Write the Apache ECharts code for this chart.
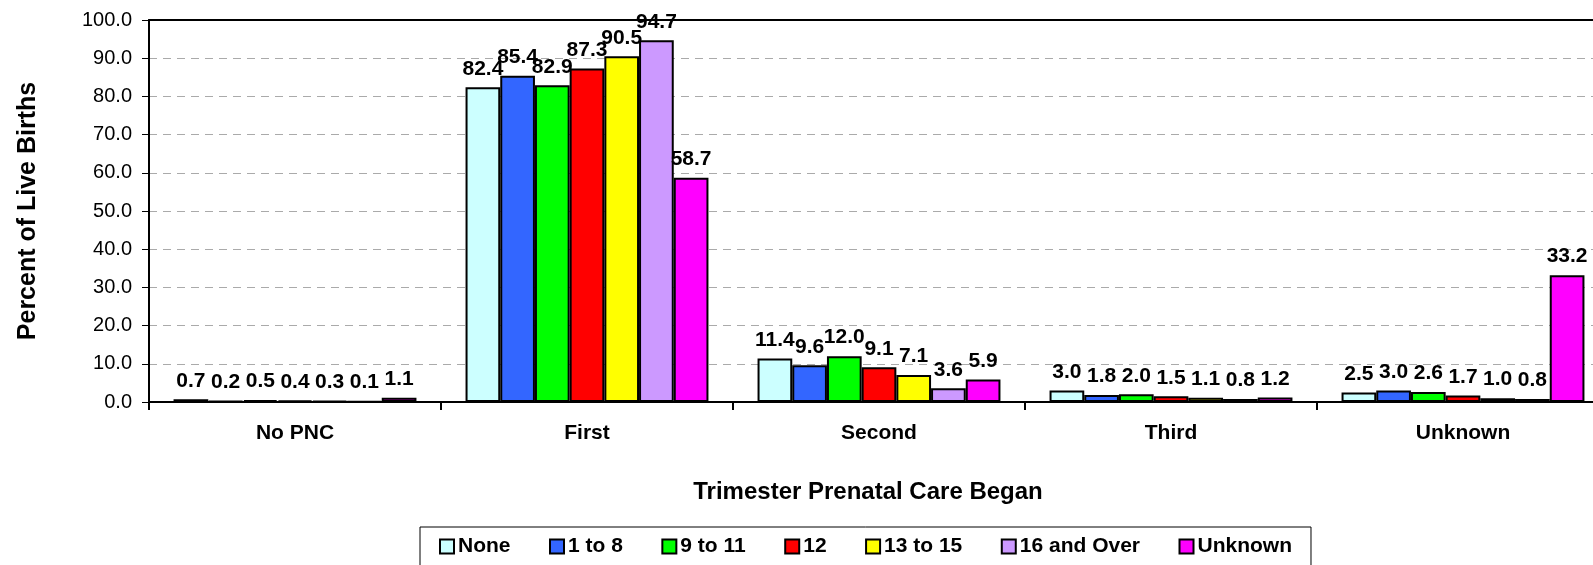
<!DOCTYPE html>
<html>
<head>
<meta charset="utf-8">
<script src="https://cdn.jsdelivr.net/npm/echarts@6/dist/echarts.min.js"></script>
<style>
  html, body { margin: 0; padding: 0; background: #fff; }
  #chart { width: 1593px; height: 565px; }
</style>
</head>
<body>
<div id="chart"></div>
<script>
// trimester categories
const categories = ['No PNC', 'First', 'Second', 'Third', 'Unknown']
// education groups (legend)
const groups = ['None', '1 to 8', '9 to 11', '12', '13 to 15', '16 and Over', 'Unknown']
const colors = ['#CCFFFF', '#3366FF', '#00FF00', '#FF0000', '#FFFF00', '#CC99FF', '#FF00FF']

// percent of live births per group, by trimester
const none = [0.7, 82.4, 11.4, 3.0, 2.5]
const oneTo8 = [0.2, 85.4, 9.6, 1.8, 3.0]
const nineTo11 = [0.5, 82.9, 12.0, 2.0, 2.6]
const twelve = [0.4, 87.3, 9.1, 1.5, 1.7]
const thirteenTo15 = [0.3, 90.5, 7.1, 1.1, 1.0]
const sixteenPlus = [0.1, 94.7, 3.6, 0.8, 0.8]
const unknown = [1.1, 58.7, 5.9, 1.2, 33.2]

const values = [none, oneTo8, nineTo11, twelve, thirteenTo15, sixteenPlus, unknown]

const chart = echarts.init(document.getElementById('chart'))

chart.setOption({
  animation: false,
  textStyle: { fontFamily: 'Liberation Sans, Arial, sans-serif' },
  // plot runs past the right edge (the original is cropped there)
  grid: { left: 149, width: 1460, top: 20, height: 382, outerBoundsMode: 'none' },
  legend: {
    data: groups,
    top: 527,
    left: 420,
    orient: 'horizontal',
    itemWidth: 14,
    itemHeight: 14,
    itemGap: 38.5,
    padding: [9, 19, 9, 19],
    borderColor: '#000',
    borderWidth: 1,
    icon: 'rect',
    textStyle: { fontSize: 21, fontWeight: 'bold', color: '#000', padding: [0, 0, 0, -1] }
  },
  xAxis: [{
    type: 'category',
    data: categories,
    name: 'Trimester Prenatal Care Began',
    nameLocation: 'middle',
    nameGap: 78,
    nameTextStyle: { fontSize: 24, fontWeight: 'bold', color: '#000', padding: [0, 22, 0, 0] },
    axisLine: { lineStyle: { color: '#000', width: 2 } },
    axisTick: { show: true, length: 8, lineStyle: { color: '#000', width: 2 } },
    axisLabel: { fontSize: 21, fontWeight: 'bold', color: '#000', margin: 21 }
  }, {
    // top border of the plot area
    type: 'category',
    data: categories,
    position: 'top',
    axisLine: { lineStyle: { color: '#000', width: 2 } },
    axisTick: { show: false },
    axisLabel: { show: false }
  }],
  yAxis: {
    type: 'value',
    min: 0,
    max: 100,
    interval: 10,
    name: 'Percent of Live Births',
    nameLocation: 'middle',
    nameGap: 108,
    nameTextStyle: { fontSize: 25, fontWeight: 'bold', color: '#000' },
    axisLine: { show: true, lineStyle: { color: '#000', width: 2 } },
    axisTick: { show: true, length: 7, lineStyle: { color: '#000', width: 1 } },
    axisLabel: {
      fontSize: 20,
      color: '#000',
      margin: 17,
      formatter: v => v.toFixed(1)
    },
    splitLine: { show: true, lineStyle: { color: '#aaa', type: [8, 6], width: 1 } }
  },
  series: groups.map((name, i) => ({
    name: name,
    type: 'bar',
    data: values[i],
    barWidth: 34.7,
    barGap: '0%',
    itemStyle: { color: colors[i], borderColor: '#000', borderWidth: 2 },
    label: {
      show: true,
      position: 'top',
      distance: 8,
      fontSize: 21,
      fontWeight: 'bold',
      color: '#000',
      formatter: p => p.value.toFixed(1)
    },
    labelLayout: { moveOverlap: 'shiftY' }
  }))
})
</script>
</body>
</html>
